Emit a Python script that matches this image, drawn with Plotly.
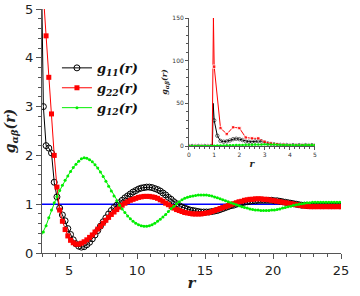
import plotly.graph_objects as go

# ---- main panel data (sampling grid in r) ----
r = [2.9, 3.1, 3.3, 3.5, 3.7, 3.9, 4.1, 4.3, 4.5, 4.7,
     4.9, 5.1, 5.3, 5.5, 5.7, 5.9, 6.1, 6.3, 6.5, 6.7,
     6.9, 7.1, 7.3, 7.5, 7.7, 7.9, 8.1, 8.3, 8.5, 8.7,
     8.9, 9.1, 9.3, 9.5, 9.7, 9.9, 10.1, 10.3, 10.5, 10.7,
     10.9, 11.1, 11.3, 11.5, 11.7, 11.9, 12.1, 12.3, 12.5, 12.7,
     12.9, 13.1, 13.3, 13.5, 13.7, 13.9, 14.1, 14.3, 14.5, 14.7,
     14.9, 15.1, 15.3, 15.5, 15.7, 15.9, 16.1, 16.3, 16.5, 16.7,
     16.9, 17.1, 17.3, 17.5, 17.7, 17.9, 18.1, 18.3, 18.5, 18.7,
     18.9, 19.1, 19.3, 19.5, 19.7, 19.9, 20.1, 20.3, 20.5, 20.7,
     20.9, 21.1, 21.3, 21.5, 21.7, 21.9, 22.1, 22.3, 22.5, 22.7,
     22.9, 23.1, 23.3, 23.5, 23.7, 23.9, 24.1, 24.3, 24.5, 24.7,
     24.9, 25.1]

g11 = [7.0, 3.0, 2.2, 2.15, 2.05, 1.45, 1.15, 0.92, 0.78, 0.66,
       0.50, 0.38, 0.27, 0.19, 0.14, 0.12, 0.13, 0.17, 0.22, 0.29,
       0.37, 0.46, 0.55, 0.64, 0.72, 0.80, 0.87, 0.93, 0.98, 1.03,
       1.08, 1.13, 1.17, 1.21, 1.25, 1.28, 1.31, 1.33, 1.34, 1.35,
       1.35, 1.34, 1.32, 1.30, 1.27, 1.23, 1.19, 1.14, 1.10, 1.05,
       1.01, 0.97, 0.94, 0.92, 0.90, 0.88, 0.87, 0.86, 0.85, 0.84,
       0.84, 0.84, 0.84, 0.85, 0.86, 0.87, 0.89, 0.91, 0.93, 0.95,
       0.97, 0.98, 1.00, 1.01, 1.03, 1.04, 1.05, 1.06, 1.07, 1.07,
       1.08, 1.08, 1.08, 1.08, 1.08, 1.08, 1.07, 1.07, 1.06, 1.05,
       1.04, 1.03, 1.02, 1.01, 1.00, 0.99, 0.98, 0.98, 0.97, 0.97,
       0.97, 0.97, 0.97, 0.97, 0.97, 0.97, 0.97, 0.97, 0.97, 0.97,
       0.97, 0.97]

g22 = [6.5, 5.3, 4.45, 3.6, 2.85, 2.0, 1.35, 0.88, 0.65, 0.48,
       0.35, 0.26, 0.21, 0.18, 0.18, 0.20, 0.23, 0.27, 0.32, 0.37,
       0.43, 0.49, 0.55, 0.61, 0.67, 0.73, 0.79, 0.84, 0.89, 0.94,
       0.98, 1.02, 1.05, 1.08, 1.10, 1.12, 1.14, 1.15, 1.16, 1.16,
       1.16, 1.15, 1.14, 1.12, 1.09, 1.06, 1.02, 0.99, 0.95, 0.92,
       0.89, 0.87, 0.85, 0.83, 0.82, 0.81, 0.80, 0.80, 0.80, 0.80,
       0.81, 0.82, 0.83, 0.85, 0.87, 0.89, 0.91, 0.93, 0.95, 0.97,
       0.99, 1.01, 1.03, 1.05, 1.06, 1.08, 1.09, 1.10, 1.10, 1.11,
       1.11, 1.11, 1.10, 1.10, 1.09, 1.08, 1.07, 1.06, 1.05, 1.04,
       1.03, 1.02, 1.01, 1.00, 0.99, 0.98, 0.97, 0.96, 0.96, 0.95,
       0.95, 0.95, 0.95, 0.95, 0.95, 0.95, 0.95, 0.95, 0.95, 0.95,
       0.95, 0.95]

g12 = [0.33, 0.43, 0.56, 0.72, 0.88, 1.03, 1.16, 1.28, 1.39, 1.49,
       1.58, 1.67, 1.75, 1.82, 1.88, 1.93, 1.95, 1.94, 1.91, 1.87,
       1.81, 1.74, 1.66, 1.57, 1.47, 1.37, 1.27, 1.17, 1.07, 0.98,
       0.90, 0.83, 0.76, 0.70, 0.65, 0.61, 0.58, 0.56, 0.55, 0.55,
       0.56, 0.58, 0.61, 0.65, 0.69, 0.74, 0.79, 0.85, 0.91, 0.96,
       1.01, 1.05, 1.09, 1.12, 1.14, 1.16, 1.17, 1.18, 1.19, 1.19,
       1.19, 1.19, 1.18, 1.17, 1.15, 1.13, 1.11, 1.09, 1.07, 1.05,
       1.03, 1.01, 0.99, 0.97, 0.95, 0.93, 0.92, 0.90, 0.89, 0.88,
       0.88, 0.87, 0.87, 0.87, 0.87, 0.88, 0.88, 0.89, 0.90, 0.92,
       0.93, 0.95, 0.96, 0.98, 0.99, 1.00, 1.01, 1.02, 1.03, 1.03,
       1.04, 1.04, 1.04, 1.04, 1.04, 1.04, 1.04, 1.04, 1.04, 1.04,
       1.04, 1.04]

ref_r = [3, 25]
ref_g = [1, 1]

# ---- inset data ----
r_in22 = [0, 0.25, 0.5, 0.75, 0.92, 0.97, 1.0, 1.25, 1.5, 1.75, 2.0, 2.25, 2.5,
          2.75, 3.0, 3.25, 3.5, 3.75, 4.0, 4.25, 4.5, 4.75, 5.0]
g22_in = [0, 0, 0, 0, 0, 150, 93, 21, 14, 22, 21, 10, 9,
          9, 5, 3, 2, 1.5, 1, 1, 1, 1, 1]

r_in11 = [0, 0.125, 0.25, 0.375, 0.5, 0.625, 0.75, 0.875, 0.93, 0.96,
          1.0, 1.125, 1.25, 1.375, 1.5, 1.625, 1.75, 1.875, 2.0, 2.125,
          2.25, 2.375, 2.5, 2.625, 2.75, 2.875, 3.0, 3.125, 3.25, 3.375,
          3.5, 3.625, 3.75, 3.875, 4.0, 4.125, 4.25, 4.375, 4.5, 4.625,
          4.75, 4.875, 5.0]
g11_in = [0, 0, 0, 0, 0, 0, 0, 0, 0, 50,
          30, 12, 6, 5, 5.5, 6.5, 8, 8.5, 8, 7,
          5.5, 5, 5, 5.5, 6, 5.5, 4, 3, 2.5, 2,
          1.5, 1.3, 1.2, 1.1, 1, 1, 1, 1, 1, 1,
          1, 1, 1]

r_in12 = [0, 0.125, 0.25, 0.375, 0.5, 0.625, 0.75, 0.875, 1.0, 1.125,
          1.25, 1.375, 1.5, 1.625, 1.75, 1.875, 2.0, 2.125, 2.25, 2.375,
          2.5, 2.625, 2.75, 2.875, 3.0, 3.125, 3.25, 3.375, 3.5, 3.625,
          3.75, 3.875, 4.0, 4.125, 4.25, 4.375, 4.5, 4.625, 4.75, 4.875, 5.0]
g12_in = [0, 0, 0, 0, 0, 0, 0, 0, 0.3, 0.5,
          0.6, 0.7, 0.8, 0.9, 1.0, 1.1, 1.2, 1.3, 1.4, 1.5,
          1.6, 1.7, 1.8, 1.9, 2.0, 1.9, 1.8, 1.7, 1.5, 1.3,
          1.1, 1.0, 0.9, 0.8, 0.8, 0.9, 1.0, 1.1, 1.1, 1.1, 1.0]

BLACK = "#000000"
RED = "#ff0000"
GREEN = "#00ee00"
BLUE = "#0000ff"

fig = go.Figure()

fig.add_trace(go.Scatter(x=ref_r, y=ref_g, mode="lines", line=dict(color=BLUE, width=1.5),
                         showlegend=False, hoverinfo="skip"))

fig.add_trace(go.Scatter(x=r, y=g11, mode="lines+markers", name="<b><i>g<sub>11</sub>(r)</i></b>",
                         line=dict(color=BLACK, width=1),
                         marker=dict(symbol="circle-open", size=6, color=BLACK, line=dict(width=1))))
fig.add_trace(go.Scatter(x=r, y=g22, mode="lines+markers", name="<b><i>g<sub>22</sub>(r)</i></b>",
                         line=dict(color=RED, width=1),
                         marker=dict(symbol="square", size=5, color=RED)))
fig.add_trace(go.Scatter(x=r, y=g12, mode="lines+markers", name="<b><i>g<sub>12</sub>(r)</i></b>",
                         line=dict(color=GREEN, width=1),
                         marker=dict(symbol="circle", size=3, color=GREEN)))

# inset
size11 = [0 if (rv in (0.93, 0.96)) else 3.5 for rv in r_in11]
size22 = [0 if (rv in (0.92, 0.97)) else 3.5 for rv in r_in22]
fig.add_trace(go.Scatter(x=r_in11, y=g11_in, mode="lines+markers", xaxis="x2", yaxis="y2",
                         showlegend=False, line=dict(color=BLACK, width=1),
                         marker=dict(symbol="circle-open", size=size11, color=BLACK, line=dict(width=0.8))))
fig.add_trace(go.Scatter(x=r_in22, y=g22_in, mode="lines+markers", xaxis="x2", yaxis="y2",
                         showlegend=False, line=dict(color=RED, width=1),
                         marker=dict(symbol="square", size=size22, color=RED)))
fig.add_trace(go.Scatter(x=r_in12, y=g12_in, mode="lines+markers", xaxis="x2", yaxis="y2",
                         showlegend=False, line=dict(color=GREEN, width=1),
                         marker=dict(symbol="circle", size=2.5, color=GREEN)))

AX = "#555555"
fig.update_layout(
    width=360, height=296,
    margin=dict(l=42, r=19, t=9, b=43, autoexpand=False),
    paper_bgcolor="white", plot_bgcolor="white",
    font=dict(family="DejaVu Sans", color="#222222"),
    showlegend=True,
    legend=dict(x=0.05, y=0.82, xanchor="left", yanchor="top",
                bgcolor="rgba(0,0,0,0)", font=dict(family="DejaVu Serif", size=13, color="#111111"),
                tracegroupgap=0, itemwidth=30),
    xaxis=dict(domain=[0, 1], range=[3, 25], tick0=0, dtick=5, showgrid=False, zeroline=False,
               automargin=False,
               showline=True, linecolor=AX, linewidth=1, ticks="outside", ticklen=5, tickcolor=AX,
               tickfont=dict(size=13, family="DejaVu Sans", color="#222222"),
               minor=dict(dtick=1, ticks="outside", ticklen=3, tickcolor=AX),
               title=dict(text="<b><i>r</i></b>", font=dict(family="DejaVu Serif", size=15), standoff=0)),
    yaxis=dict(domain=[0, 1], range=[0, 5], dtick=1, showgrid=False, zeroline=False,
               automargin=False,
               showline=True, linecolor=AX, linewidth=1, ticks="outside", ticklen=5, tickcolor=AX,
               tickfont=dict(size=13, family="DejaVu Sans", color="#222222"),
               minor=dict(dtick=0.2, ticks="outside", ticklen=3, tickcolor=AX),
               title=dict(text="<b><i>g<sub>αβ</sub>(r)</i></b>", font=dict(family="DejaVu Serif", size=14), standoff=6)),
    xaxis2=dict(domain=[0.4916, 0.913], anchor="y2", range=[0, 5], dtick=1, showgrid=False, zeroline=False,
                automargin=False,
                showline=True, linecolor=AX, linewidth=1, ticks="outside", ticklen=3, tickcolor=AX,
                tickfont=dict(size=6, family="DejaVu Sans", color="#333333"),
                minor=dict(dtick=0.2, ticks="outside", ticklen=2, tickcolor=AX),
                title=dict(text="<b><i>r</i></b>", font=dict(family="DejaVu Serif", size=9), standoff=3)),
    yaxis2=dict(domain=[0.4385, 0.963], anchor="x2", range=[0, 150], dtick=50, showgrid=False, zeroline=False,
                automargin=False,
                showline=True, linecolor=AX, linewidth=1, ticks="outside", ticklen=3, tickcolor=AX,
                tickfont=dict(size=6, family="DejaVu Sans", color="#333333"),
                minor=dict(dtick=10, ticks="outside", ticklen=2, tickcolor=AX),
                title=dict(text="<b><i>g<sub>αβ</sub>(r)</i></b>", font=dict(family="DejaVu Serif", size=8), standoff=3)),
)

fig.write_html("out.html", config={"displayModeBar": False},
               post_script="document.body.style.margin='0';")
